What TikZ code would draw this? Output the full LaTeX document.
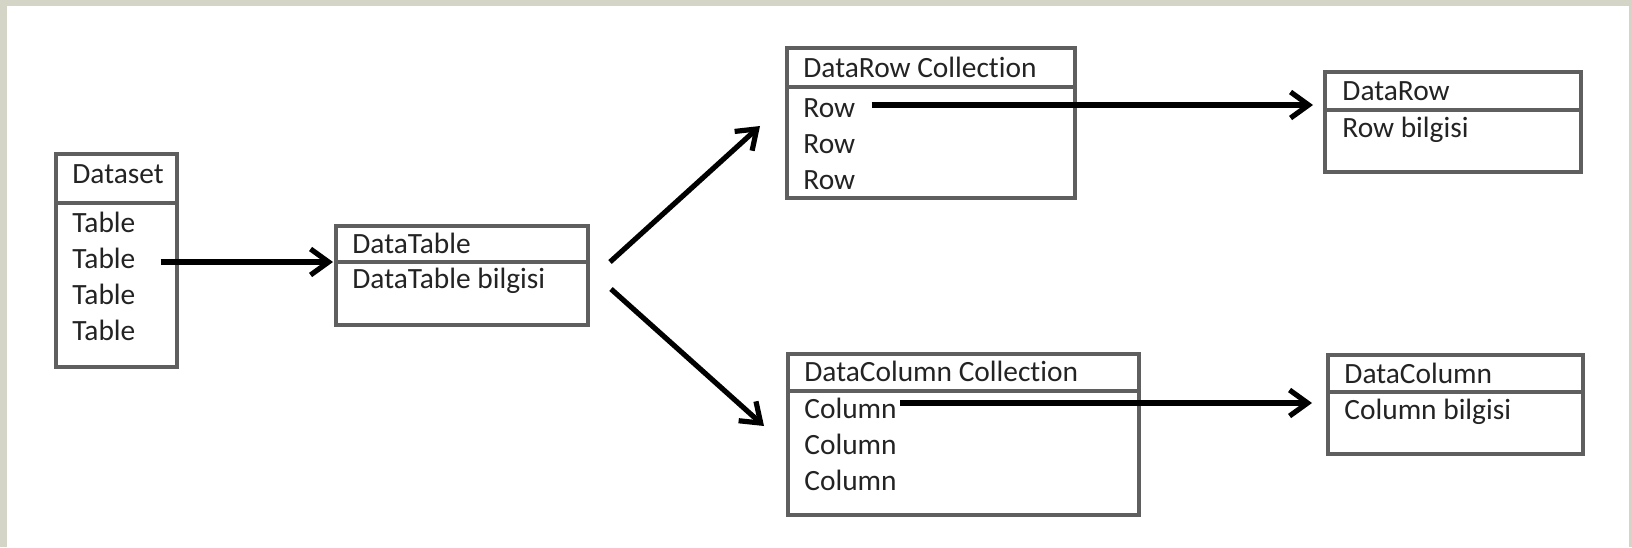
\documentclass[tikz,border=0pt]{standalone}
\usepackage{fontspec}
\setmainfont{Carlito}[Ligatures=NoCommon]
\usepackage{tikz}
\usetikzlibrary{arrows.meta,positioning}
\definecolor{bggray}{RGB}{213,213,199}
\definecolor{boxgray}{RGB}{95,95,95}
\definecolor{txtgray}{RGB}{35,35,35}
\tikzstyle{frame} = [draw=boxgray, line width=1.8pt, rectangle, inner sep=0pt, outer sep=0pt, anchor=north west]
\tikzstyle{txt} = [inner sep=0pt, anchor=base west, text=txtgray, font=\fontsize{14.7pt}{18pt}\selectfont]
\tikzstyle{conn} = [draw, line width=2.6pt, -{Straight Barb[length=9pt, width=13pt]}]

\begin{document}
\begin{tikzpicture}

% background =============================
\useasboundingbox (0,0) rectangle (816pt,-273.5pt);
\fill[bggray] (0,0) rectangle (816pt,-273.5pt);
\fill[white] (3.5pt,-3pt) rectangle (814.5pt,-273.5pt);

% boxes ==================================

% Dataset
\node[frame, minimum width=60.5pt, minimum height=24.5pt] (dsH) at (28pt,-77pt) {};
\node[frame, minimum width=60.5pt, minimum height=82pt, below=0pt of dsH] (dsB) {};
\node[txt] (dsT) at ([xshift=8pt, yshift=-14.5pt]dsH.north west) {Dataset};
\node[txt] (t1) at ([xshift=8pt, yshift=-14.5pt]dsB.north west) {Table};
\node[txt] (t2) at ([yshift=-18pt]t1.base west) {Table};
\node[txt] (t3) at ([yshift=-18pt]t2.base west) {Table};
\node[txt] (t4) at ([yshift=-18pt]t3.base west) {Table};

% DataTable
\node[frame, minimum width=126pt, minimum height=18pt] (dtH) at (168pt,-113pt) {};
\node[frame, minimum width=126pt, minimum height=31.5pt, below=0pt of dtH] (dtB) {};
\node[txt] (dtT) at ([xshift=8pt, yshift=-13.5pt]dtH.north west) {DataTable};
\node[txt] (dtI) at ([xshift=8pt, yshift=-13pt]dtB.north west) {DataTable bilgisi};

% DataRow Collection
\node[frame, minimum width=144pt, minimum height=19.5pt] (drcH) at (393.5pt,-24pt) {};
\node[frame, minimum width=144pt, minimum height=55.5pt, below=0pt of drcH] (drcB) {};
\node[txt] (drcT) at ([xshift=8pt, yshift=-14.5pt]drcH.north west) {DataRow Collection};
\node[txt] (r1) at ([xshift=8pt, yshift=-15pt]drcB.north west) {Row};
\node[txt] (r2) at ([yshift=-18pt]r1.base west) {Row};
\node[txt] (r3) at ([yshift=-18pt]r2.base west) {Row};

% DataRow
\node[frame, minimum width=128pt, minimum height=19pt] (drH) at (662.5pt,-36pt) {};
\node[frame, minimum width=128pt, minimum height=31pt, below=0pt of drH] (drB) {};
\node[txt] (drT) at ([xshift=8.5pt, yshift=-14pt]drH.north west) {DataRow};
\node[txt] (drI) at ([xshift=8.5pt, yshift=-13.5pt]drB.north west) {Row bilgisi};

% DataColumn Collection
\node[frame, minimum width=175.5pt, minimum height=18.5pt] (dccH) at (394pt,-177pt) {};
\node[frame, minimum width=175.5pt, minimum height=62pt, below=0pt of dccH] (dccB) {};
\node[txt] (dccT) at ([xshift=8pt, yshift=-13.5pt]dccH.north west) {DataColumn Collection};
\node[txt] (c1) at ([xshift=8pt, yshift=-13.5pt]dccB.north west) {Column};
\node[txt] (c2) at ([yshift=-18pt]c1.base west) {Column};
\node[txt] (c3) at ([yshift=-18pt]c2.base west) {Column};

% DataColumn
\node[frame, minimum width=127.5pt, minimum height=18.5pt] (dcH) at (664pt,-177.5pt) {};
\node[frame, minimum width=127.5pt, minimum height=31pt, below=0pt of dcH] (dcB) {};
\node[txt] (dcT) at ([xshift=8pt, yshift=-14pt]dcH.north west) {DataColumn};
\node[txt] (dcI) at ([xshift=8pt, yshift=-13.5pt]dcB.north west) {Column bilgisi};

% edges ==================================
\path[conn] ([xshift=12.5pt]t2.east |- dtH.south west) -- ([xshift=-1.5pt]dtH.south west);
\path[conn] ([xshift=11pt]dtH.south east) -- ([xshift=-13.5pt, yshift=-19.5pt]drcB.north west);
\path[conn] ([xshift=11.5pt, yshift=-13.5pt]dtH.south east) -- ([xshift=-12pt, yshift=-17.5pt]dccB.north west);
\path[conn] ([xshift=8pt, yshift=6pt]r1.base east) -- ([xshift=-6pt, yshift=6pt]r1.base east -| drB.west);
\path[conn] ([xshift=1.5pt, yshift=7.5pt]c1.base east) -- ([xshift=-8pt, yshift=7.5pt]c1.base east -| dcB.west);

\end{tikzpicture}
\end{document}
